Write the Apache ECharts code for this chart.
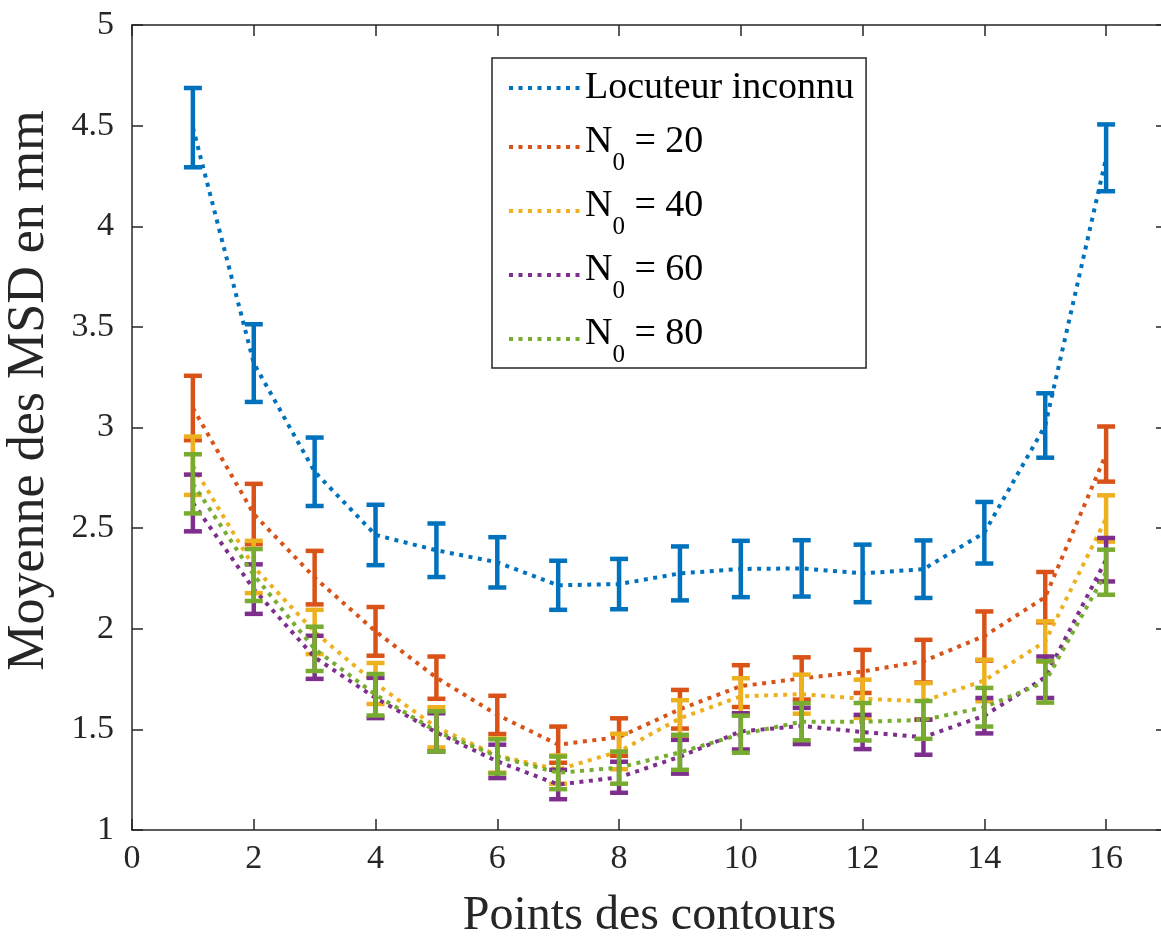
<!DOCTYPE html>
<html>
<head>
<meta charset="utf-8">
<script src="https://cdn.jsdelivr.net/npm/echarts@6/dist/echarts.min.js"></script>
<style>
  html, body { margin: 0; background: #fff; }
  #chart { width: 1161px; height: 943px; }
</style>
</head>
<body>
<div id="chart"></div>
<script>
// contour points 1..16
const points = [1, 2, 3, 4, 5, 6, 7, 8, 9, 10, 11, 12, 13, 14, 15, 16]
const names = ['Locuteur inconnu', 'N0 = 20', 'N0 = 40', 'N0 = 60', 'N0 = 80']
const colors = ['#0072BD', '#D95319', '#EDB120', '#7E2F8E', '#77AC30']

// mean MSD (mm) and half-length of the error bars
const meanUnknown = [4.49, 3.32, 2.78, 2.466, 2.39, 2.33, 2.216, 2.222, 2.275, 2.297, 2.30, 2.275, 2.296, 2.477, 3.01, 4.34]
const errUnknown = [0.197, 0.193, 0.17, 0.15, 0.133, 0.125, 0.122, 0.125, 0.134, 0.14, 0.14, 0.143, 0.143, 0.153, 0.16, 0.166]
const mean20 = [3.097, 2.57, 2.254, 1.987, 1.757, 1.572, 1.424, 1.462, 1.60, 1.715, 1.753, 1.788, 1.839, 1.964, 2.157, 2.868]
const err20 = [0.16, 0.15, 0.133, 0.121, 0.105, 0.095, 0.09, 0.093, 0.096, 0.104, 0.105, 0.107, 0.106, 0.122, 0.125, 0.137]
const mean40 = [2.81, 2.307, 1.984, 1.728, 1.51, 1.37, 1.30, 1.39, 1.555, 1.664, 1.675, 1.652, 1.64, 1.743, 1.937, 2.548]
const err40 = [0.145, 0.13, 0.11, 0.102, 0.10, 0.085, 0.07, 0.088, 0.09, 0.09, 0.097, 0.095, 0.09, 0.103, 0.10, 0.115]
const mean60 = [2.625, 2.197, 1.858, 1.656, 1.485, 1.341, 1.226, 1.262, 1.364, 1.49, 1.517, 1.487, 1.461, 1.568, 1.759, 2.343]
const err60 = [0.141, 0.123, 0.107, 0.10, 0.095, 0.083, 0.073, 0.077, 0.084, 0.09, 0.09, 0.085, 0.087, 0.088, 0.103, 0.108]
const mean80 = [2.72, 2.267, 1.90, 1.672, 1.49, 1.366, 1.284, 1.31, 1.386, 1.476, 1.538, 1.538, 1.547, 1.61, 1.736, 2.281]
const err80 = [0.147, 0.129, 0.11, 0.103, 0.10, 0.085, 0.081, 0.08, 0.087, 0.092, 0.092, 0.093, 0.094, 0.096, 0.103, 0.112]

const means = [meanUnknown, mean20, mean40, mean60, mean80]
const errs = [errUnknown, err20, err40, err60, err80]

const font = '"Liberation Serif", "Times New Roman", serif'
const axisColor = '#262626'

function renderErrorBar(params, api) {
  const x = api.value(0)
  const lo = api.coord([x, api.value(1)])
  const hi = api.coord([x, api.value(2)])
  const half = 9
  const style = { stroke: api.visual('color'), lineWidth: 4.5 }
  return {
    type: 'group',
    children: [
      { type: 'line', shape: { x1: lo[0], y1: lo[1], x2: hi[0], y2: hi[1] }, style },
      { type: 'line', shape: { x1: lo[0] - half, y1: lo[1], x2: lo[0] + half, y2: lo[1] }, style },
      { type: 'line', shape: { x1: hi[0] - half, y1: hi[1], x2: hi[0] + half, y2: hi[1] }, style }
    ]
  }
}

const series = []
names.forEach((name, i) => {
  series.push({
    name: name,
    type: 'line',
    z: 2 + i * 2,
    data: points.map((p, k) => [p, means[i][k]]),
    symbol: 'none',
    color: colors[i],
    lineStyle: { color: colors[i], width: 4, type: [4, 5.5], cap: 'butt' },
    animation: false
  })
  series.push({
    name: name + ' err',
    type: 'custom',
    z: 3 + i * 2,
    color: colors[i],
    renderItem: renderErrorBar,
    encode: { x: 0, y: [1, 2] },
    data: points.map((p, k) => [p, means[i][k] - errs[i][k], means[i][k] + errs[i][k]]),
    animation: false
  })
})

const axisCommon = {
  axisLine: { show: true, onZero: false, lineStyle: { color: axisColor, width: 1.5 } },
  axisTick: { show: true, inside: true, length: 11, lineStyle: { color: axisColor, width: 1.5 } },
  splitLine: { show: false }
}

const subText = { fontFamily: font, fontSize: 25, lineHeight: 58, verticalAlign: 'bottom', color: '#000' }
const mainText = { fontFamily: font, fontSize: 38, verticalAlign: 'top', padding: [5, 0, 0, 0], color: '#000' }

const option = {
  backgroundColor: '#fff',
  animation: false,
  textStyle: { fontFamily: font },
  grid: { left: 132, right: -6, top: 25, bottom: 113, containLabel: false, outerBoundsMode: 'none' },
  legend: {
    orient: 'vertical',
    left: 492,
    top: 58,
    padding: [6, 12, 0, 15],
    itemGap: 11,
    itemWidth: 71,
    itemHeight: 14,
    backgroundColor: '#fff',
    borderColor: '#262626',
    borderWidth: 1.5,
    borderRadius: 0,
    lineStyle: { width: 4 },
    itemStyle: { opacity: 0, color: 'transparent', borderColor: 'transparent', borderWidth: 0 },
    data: [
      { name: names[0], textStyle: { lineHeight: 42, padding: [3, 0, 3, 0] } },
      names[1], names[2], names[3], names[4]
    ],
    formatter: function (name) {
      if (name.indexOf('N0') === 0) {
        return '{n|N}{sub|0}{n|' + name.slice(2) + '}'
      }
      return name
    },
    textStyle: {
      fontFamily: font,
      fontSize: 38,
      color: '#000',
      rich: { n: mainText, sub: subText }
    }
  },
  xAxis: [
    Object.assign({
      type: 'value', position: 'bottom', min: 0, max: 17, interval: 2,
      axisLabel: { fontFamily: font, fontSize: 34, color: axisColor, margin: 12, showMaxLabel: false },
      name: 'Points des contours',
      nameLocation: 'middle',
      nameGap: 62,
      nameTextStyle: { fontFamily: font, fontSize: 48, color: axisColor }
    }, axisCommon),
    Object.assign({
      type: 'value', position: 'top', min: 0, max: 17, interval: 2,
      axisLabel: { show: false }
    }, axisCommon)
  ],
  yAxis: [
    Object.assign({
      type: 'value', position: 'left', min: 1, max: 5, interval: 0.5,
      axisLabel: { fontFamily: font, fontSize: 34, color: axisColor, margin: 18 },
      name: 'Moyenne des MSD en mm',
      nameLocation: 'middle',
      nameGap: 77,
      nameRotate: 90,
      nameTextStyle: { fontFamily: font, fontSize: 52, color: axisColor, padding: [0, 0, 0, 74] }
    }, axisCommon),
    Object.assign({
      type: 'value', position: 'right', min: 1, max: 5, interval: 0.5,
      axisLabel: { show: false }
    }, axisCommon)
  ],
  series: series
}

const chart = echarts.init(document.getElementById('chart'))
chart.setOption(option)
window.onresize = function () {
  chart.resize()
}
</script>
</body>
</html>
